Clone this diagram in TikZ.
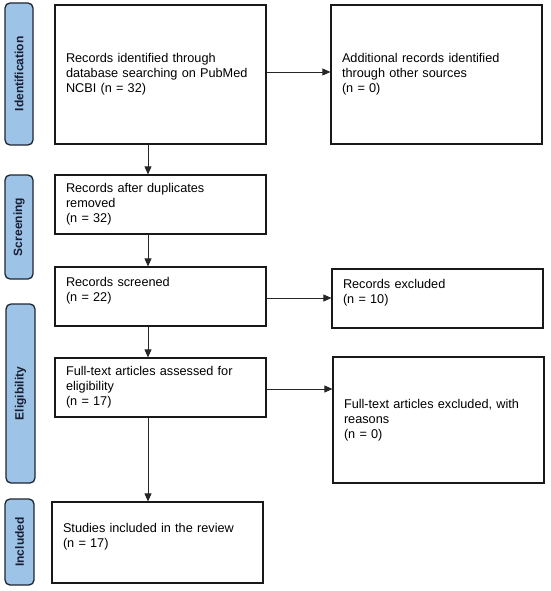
\documentclass[tikz,border=0pt]{standalone}
\usepackage{fontspec}
\setmainfont{Liberation Sans}
\usetikzlibrary{arrows.meta}
\definecolor{lblfill}{RGB}{157,195,230}
\definecolor{lbldraw}{RGB}{30,38,50}
\definecolor{lbltext}{RGB}{24,30,50}
\definecolor{boxline}{RGB}{25,25,25}
\tikzset{
  box/.style={draw=boxline, line width=1.2pt, fill=white, inner xsep=11pt, inner ysep=0pt,
    align=left, font=\fontsize{12.7}{15}\selectfont, text=black,
    minimum width=211pt, text width=189pt},
  phase/.style={draw=lbldraw, line width=1.3pt, fill=lblfill, rounded corners=5pt,
    rotate=90, inner sep=0pt, font=\bfseries\fontsize{12}{14}\selectfont, text=lbltext},
  arr/.style={draw=black!85, line width=0.8pt, -{Triangle[length=8pt,width=7pt]}}
}
\begin{document}
\begin{tikzpicture}[x=1pt,y=-1pt]
\useasboundingbox (0,0) rectangle (550,591);
% phase labels
\node[phase, minimum width=142pt, minimum height=28pt] (pid) at (19,74) {Identification};
\node[phase, minimum width=104pt, minimum height=28pt] (pscr) at (19,227) {Screening};
\node[phase, minimum width=179pt, minimum height=29pt] (pel) at (20.5,393.5) {Eligibility};
\node[phase, minimum width=86pt, minimum height=29pt] (pinc) at (19.5,542) {Included};
% boxes
\node[box, minimum height=139pt] (b1) at (160.5,74.5) {Records identified through\\database searching on PubMed\\NCBI (n = 32)};
\node[box, minimum height=139pt] (add) at (436.5,74.5) {Additional records identified\\through other sources\\(n = 0)};
\node[box, minimum height=59pt] (b2) at (160.5,204.5) {Records after duplicates\\removed\\(n = 32)};
\node[box, minimum height=59pt] (b3) at (160.5,296.5) {Records screened\\(n = 22)\\\mbox{}};
\node[box, minimum height=59pt] (exc) at (437.5,298.5) {Records excluded\\(n = 10)\\\mbox{}};
\node[box, minimum height=59pt] (b4) at (160.5,387.5) {Full-text articles assessed for\\eligibility\\(n = 17)};
\node[box, minimum height=126pt] (ftx) at (438.5,420) {Full-text articles excluded, with\\reasons\\(n = 0)};
\node[box, minimum height=81pt] (b5) at (157.5,542.5) {Studies included in the review\\(n = 17)\\\mbox{}};
% connectors
\coordinate (ax) at (148,0);
\draw[arr] (b1.south -| ax) -- (b2.north -| ax);
\draw[arr] (b2.south -| ax) -- (b3.north -| ax);
\draw[arr] (b3.south -| ax) -- (b4.north -| ax);
\draw[arr] (b4.south -| ax) -- (b5.north -| ax);
\draw[arr] ([yshift=2.5pt]b1.east) -- ([yshift=2.5pt]b1.east -| add.west);
\draw[arr] ([yshift=-1.5pt]b3.east) -- ([yshift=-1.5pt]b3.east -| exc.west);
\draw[arr] ([yshift=-1.5pt]b4.east) -- ([yshift=-1.5pt]b4.east -| ftx.west);
\end{tikzpicture}
\end{document}
